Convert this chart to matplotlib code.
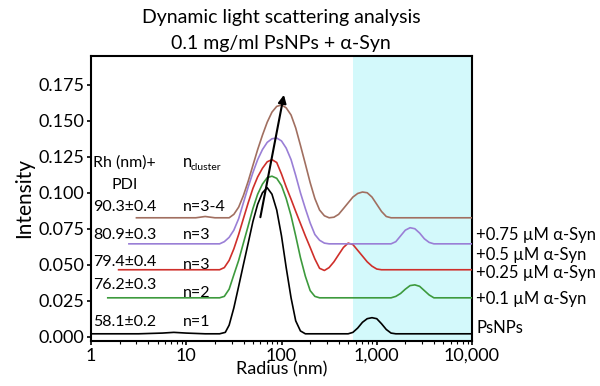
import matplotlib.pyplot as plt
from matplotlib.ticker import FixedLocator, LogLocator, NullFormatter

plt.rcParams['font.family'] = ['Lato', 'DejaVu Sans']

# radius (nm) / intensity values
r_psnps = [1, 3.16, 5.6, 7.4, 10, 15.8, 22.4, 25.7, 28.2, 31.6, 35.5, 39.8, 44.7,
           50.1, 56.2, 63.1, 70.8, 79.4, 89.1, 100, 112, 126, 141, 158, 178,
           501, 562, 631, 708, 794, 891, 1000, 1122, 1259, 1413, 1585, 10000]
i_psnps = [0.002, 0.002, 0.0025, 0.003, 0.0025, 0.002, 0.002, 0.003, 0.008, 0.02,
           0.035, 0.05, 0.065, 0.08, 0.092, 0.1, 0.1035, 0.099, 0.088, 0.07, 0.048,
           0.027, 0.011, 0.004, 0.002,
           0.002, 0.003, 0.006, 0.01, 0.0125, 0.0132, 0.0125, 0.009, 0.005,
           0.0025, 0.002, 0.002]

r_01 = [1.5, 22.4, 25.1, 28.2, 31.6, 35.5, 39.8, 44.7, 50.1, 56.2, 63.1, 70.8,
        79.4, 89.1, 100, 112, 126, 141, 158, 178, 200, 224, 251,
        1413, 1585, 1778, 1995, 2239, 2512, 2818, 3162, 3548, 3981, 10000]
i_01 = [0.027, 0.027, 0.028, 0.033, 0.043, 0.053, 0.065, 0.077, 0.089, 0.099,
        0.106, 0.1105, 0.1115, 0.11, 0.105, 0.096, 0.084, 0.07, 0.055, 0.042,
        0.032, 0.028, 0.027,
        0.027, 0.028, 0.03, 0.033, 0.0355, 0.036, 0.035, 0.032, 0.029, 0.027,
        0.027]

r_025 = [1.95, 22.4, 25.1, 28.2, 31.6, 35.5, 39.8, 44.7, 50.1, 56.2, 63.1, 70.8,
         79.4, 89.1, 100, 112, 126, 141, 158, 178, 200, 224, 251, 282, 316, 355,
         398, 447, 501, 562, 631, 708, 794, 891, 1000, 1122, 10000]
i_025 = [0.0465, 0.0465, 0.048, 0.053, 0.061, 0.071, 0.082, 0.093, 0.103, 0.111,
         0.117, 0.1215, 0.123, 0.121, 0.113, 0.104, 0.0955, 0.087, 0.0787, 0.07,
         0.062, 0.054, 0.0475, 0.046, 0.048, 0.052, 0.057, 0.062, 0.065, 0.064,
         0.06, 0.056, 0.052, 0.049, 0.047, 0.0465, 0.0465]

r_05 = [2.5, 22.4, 25.1, 28.2, 31.6, 35.5, 39.8, 44.7, 50.1, 56.2, 63.1, 70.8,
        79.4, 89.1, 100, 112, 126, 141, 158, 178, 200, 224, 251, 282, 316,
        1413, 1585, 1778, 1995, 2239, 2512, 2818, 3162, 3548, 3981, 10000]
i_05 = [0.0645, 0.0645, 0.066, 0.069, 0.074, 0.082, 0.093, 0.104, 0.114, 0.123,
        0.13, 0.135, 0.1375, 0.138, 0.136, 0.131, 0.123, 0.112, 0.1, 0.089,
        0.079, 0.071, 0.067, 0.065, 0.0645,
        0.0645, 0.066, 0.07, 0.074, 0.0757, 0.075, 0.072, 0.068, 0.0655, 0.0645,
        0.0645]

r_075 = [3.0, 12.6, 15.8, 20, 28.2, 31.6, 35.5, 39.8, 44.7, 50.1, 56.2, 63.1,
         70.8, 79.4, 89.1, 100, 112, 126, 141, 158, 178, 200, 224, 251, 282,
         316, 355, 398, 447, 501, 562, 631, 708, 794, 891, 1000, 1122, 1259,
         1413, 10000]
i_075 = [0.0826, 0.0826, 0.0835, 0.0826, 0.0826, 0.085, 0.09, 0.098, 0.108,
         0.119, 0.13, 0.14, 0.149, 0.156, 0.16, 0.161, 0.159, 0.154, 0.145,
         0.133, 0.12, 0.107, 0.096, 0.088, 0.084,
         0.0826, 0.083, 0.085, 0.089, 0.093, 0.097, 0.0995, 0.1005, 0.1, 0.097,
         0.092, 0.087, 0.0835, 0.0826, 0.0826]

series = [
    (r_psnps, i_psnps, 'black', 'PsNPs'),
    (r_01, i_01, '#3d9a3d', '+0.1 \u00b5M \u03b1-Syn'),
    (r_025, i_025, '#cf2f2a', '+0.25 \u00b5M \u03b1-Syn'),
    (r_05, i_05, '#9a7fd6', '+0.5 \u00b5M \u03b1-Syn'),
    (r_075, i_075, '#a16f60', '+0.75 \u00b5M \u03b1-Syn'),
]

rh_labels = ['58.1\u00b10.2', '76.2\u00b10.3', '79.4\u00b10.4', '80.9\u00b10.3', '90.3\u00b10.4']
n_labels = ['n=1', 'n=2', 'n=3', 'n=3', 'n=3-4']

x_ticks = [1, 10, 100, 1000, 10000]
x_tick_labels = ['1', '10', '100', '1,000', '10,000']
y_ticks = [0.0, 0.025, 0.05, 0.075, 0.1, 0.125, 0.15, 0.175]

fig = plt.figure(figsize=(6, 3.86), dpi=100)
ax = fig.add_axes([91 / 600, 1 - 341 / 386, (472 - 91) / 600, (341 - 56) / 386])


def px(x, y):
    return x / 600, 1 - y / 386


ax.axvspan(566, 10000, color='#d3f9fb', lw=0, zorder=0)

for r, inten, col, lab in series:
    ax.plot(r, inten, color=col, lw=1.2, zorder=3)

ax.annotate('', xy=(106, 0.168), xytext=(60, 0.083),
            arrowprops=dict(arrowstyle='-|>', color='black', lw=1.5,
                            mutation_scale=12, shrinkA=0, shrinkB=0),
            zorder=4)

ax.set_xscale('log')
ax.set_xlim(1, 10000)
ax.set_ylim(-0.003, 0.195)
ax.xaxis.set_major_locator(FixedLocator(x_ticks))
ax.set_xticklabels(x_tick_labels)
ax.xaxis.set_minor_locator(LogLocator(base=10, subs=range(2, 10)))
ax.xaxis.set_minor_formatter(NullFormatter())
ax.set_yticks(y_ticks)
ax.set_yticklabels(['%.3f' % v for v in y_ticks])
ax.tick_params(axis='both', which='major', direction='out', length=3, width=1.2,
               labelsize=13, pad=2)
ax.tick_params(axis='x', which='minor', direction='out', length=2, width=0.8)
for s in ax.spines.values():
    s.set_linewidth(1.5)

ax.set_xlabel('Radius (nm)', fontsize=13, labelpad=-2)
ax.set_ylabel('Intensity', fontsize=15, labelpad=3)

fig.text(*px(281, 17), 'Dynamic light scattering analysis', ha='center', va='center', fontsize=14)
fig.text(*px(281, 44), '0.1 mg/ml PsNPs + \u03b1-Syn', ha='center', va='center', fontsize=14)

# left annotations
fig.text(*px(93, 163), 'Rh (nm)+', ha='left', va='center', fontsize=11.5)
fig.text(*px(125, 185), 'PDI', ha='center', va='center', fontsize=11.5)
fig.text(*px(183, 162), 'n', ha='left', va='center', fontsize=12)
fig.text(*px(191, 167), 'cluster', ha='left', va='center', fontsize=7.5)

rh_y = [322, 285, 262, 235, 207]
n_y = [322, 293, 265, 235, 207]
for lab, yy in zip(rh_labels, rh_y):
    fig.text(*px(93, yy), lab, ha='left', va='center', fontsize=11.5)
for lab, yy in zip(n_labels, n_y):
    fig.text(*px(183, yy), lab, ha='left', va='center', fontsize=11.5)

# right labels
right_y = [328, 299, 273, 255, 235]
for (r, inten, col, lab), yy in zip(series, right_y):
    fig.text(*px(476, yy), lab, ha='left', va='center', fontsize=12)

fig.savefig('out.png', dpi=100)
